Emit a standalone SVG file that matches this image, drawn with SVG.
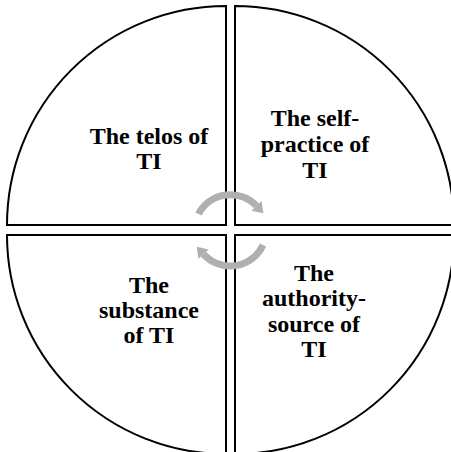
<svg xmlns="http://www.w3.org/2000/svg" width="451" height="452" viewBox="0 0 451 452">
<style>
.q{fill:#fff;stroke:#000;stroke-width:2}
.t{font-family:"Liberation Serif","Times New Roman",serif;font-weight:bold;font-size:24px;fill:#000;text-anchor:middle}
.arc{fill:none;stroke:#b0b0b0;stroke-width:7}
</style>
<defs>
<marker id="ah" markerUnits="userSpaceOnUse" markerWidth="14" markerHeight="18" viewBox="0 -9 12 18" refX="0" refY="0" orient="auto">
<path d="M0,-7 L10,0 L0,7 Z" fill="#b0b0b0"/>
</marker>
</defs>
<rect width="451" height="452" fill="#fff"/>
<g id="telos">
<path class="q" d="M226,225 L226,6 A219,219 0 0 0 7,225 Z"/>
<text class="t" x="149" y="144">The telos of</text>
<text class="t" x="149" y="169">TI</text>
</g>
<g id="self-practice">
<path class="q" d="M235,225 L235,6 A219,219 0 0 1 454,225 Z"/>
<text class="t" x="315" y="126">The self-</text>
<text class="t" x="315" y="152">practice of</text>
<text class="t" x="315" y="178">TI</text>
</g>
<g id="substance">
<path class="q" d="M226,235 L7,235 A219,219 0 0 0 226,454 Z"/>
<text class="t" x="149" y="293">The</text>
<text class="t" x="149" y="318">substance</text>
<text class="t" x="149" y="343">of TI</text>
</g>
<g id="authority-source">
<path class="q" d="M235,235 L454,235 A219,219 0 0 1 235,454 Z"/>
<text class="t" x="314" y="281">The</text>
<text class="t" x="314" y="306">authority-</text>
<text class="t" x="314" y="332">source of</text>
<text class="t" x="314" y="357">TI</text>
</g>
<g id="connectors">
<path class="arc" marker-end="url(#ah)" d="M198.5,214 A36,36 0 0 1 256.5,205.9"/>
<path class="arc" marker-end="url(#ah)" d="M263,245 A36,36 0 0 1 203.5,254.1"/>
</g>
</svg>
